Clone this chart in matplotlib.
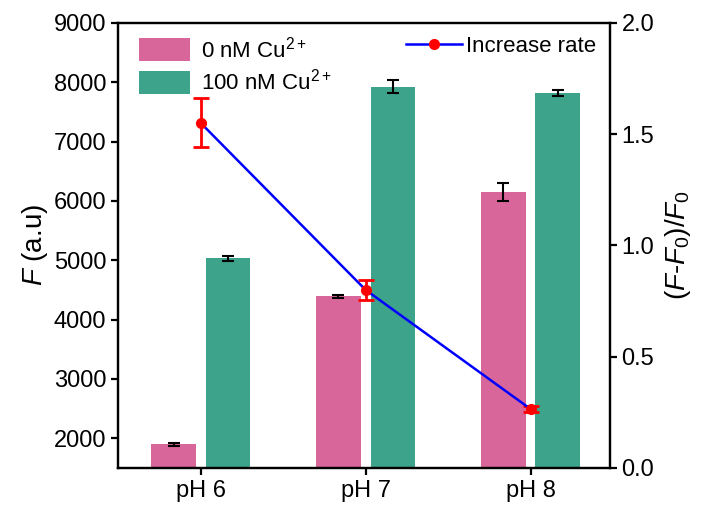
import numpy as np
import matplotlib.pyplot as plt
from matplotlib.lines import Line2D

plt.rcParams['font.family'] = ['Liberation Sans', 'DejaVu Sans']
plt.rcParams['mathtext.fontset'] = 'custom'
plt.rcParams['mathtext.rm'] = 'Liberation Sans'
plt.rcParams['mathtext.it'] = 'Liberation Sans:italic'

# datos
categorias = ['pH 6', 'pH 7', 'pH 8']
f_0nM = [1900, 4390, 6150]
err_0nM = [25, 30, 150]
f_100nM = [5030, 7920, 7820]
err_100nM = [45, 110, 45]
tasa = [1.55, 0.80, 0.265]
err_tasa = [0.11, 0.045, 0.015]

x = np.arange(len(categorias))
ancho = 0.27
desp = 0.165

fig = plt.figure(figsize=(7.04, 5.07), dpi=100)
ax = fig.add_axes([0.168, 0.077, 0.698, 0.878])

b1 = ax.bar(x - desp, f_0nM, ancho, color='#d9669a', yerr=err_0nM,
            error_kw=dict(ecolor='black', elinewidth=1.5, capsize=4, capthick=1.5),
            label='0 nM Cu$^{2+}$')
b2 = ax.bar(x + desp, f_100nM, ancho, color='#3da38a', yerr=err_100nM,
            error_kw=dict(ecolor='black', elinewidth=1.5, capsize=4, capthick=1.5),
            label='100 nM Cu$^{2+}$')
ax.set_ylim(1500, 9000)
ax.set_xlim(-0.5, 2.48)
ax.set_yticks([2000, 3000, 4000, 5000, 6000, 7000, 8000, 9000])
ax.set_xticks(x)
ax.set_xticklabels(categorias)
ax.set_ylabel('$\\mathit{F}$ (a.u)', fontsize=20, labelpad=3)

ax2 = ax.twinx()
ax2.errorbar(x, tasa, yerr=err_tasa, color='#0000ff', lw=1.8,
             marker='o', ms=7, mfc='#ff0000', mec='#ff0000',
             ecolor='#ff0000', elinewidth=2, capsize=6, capthick=2)
ax2.set_ylim(0, 2.0)
ax2.set_yticks([0.0, 0.5, 1.0, 1.5, 2.0])
ax2.set_ylabel('($\\mathit{F}$-$\\mathit{F_0}$)/$\\mathit{F_0}$', fontsize=20, labelpad=6)

for a in (ax, ax2):
    for s in a.spines.values():
        s.set_linewidth(1.6)
    a.tick_params(labelsize=17, width=1.6, length=5, direction='out')

linea = Line2D([], [], color='#0000ff', lw=1.8, marker='o', ms=7,
               mfc='#ff0000', mec='#ff0000', label='Increase rate')

ax.legend(handles=[b1, b2], loc='upper left', fontsize=16, frameon=False,
          handlelength=2.3, handleheight=1.2, borderaxespad=0.2,
          labelspacing=0.3, handletextpad=0.5, bbox_to_anchor=(0.015, 1.0))
ax2.legend(handles=[linea], loc='upper right', fontsize=16, frameon=False,
           handlelength=2.5, borderaxespad=0.2, handletextpad=0.2)

fig.savefig('out.png', dpi=100)
